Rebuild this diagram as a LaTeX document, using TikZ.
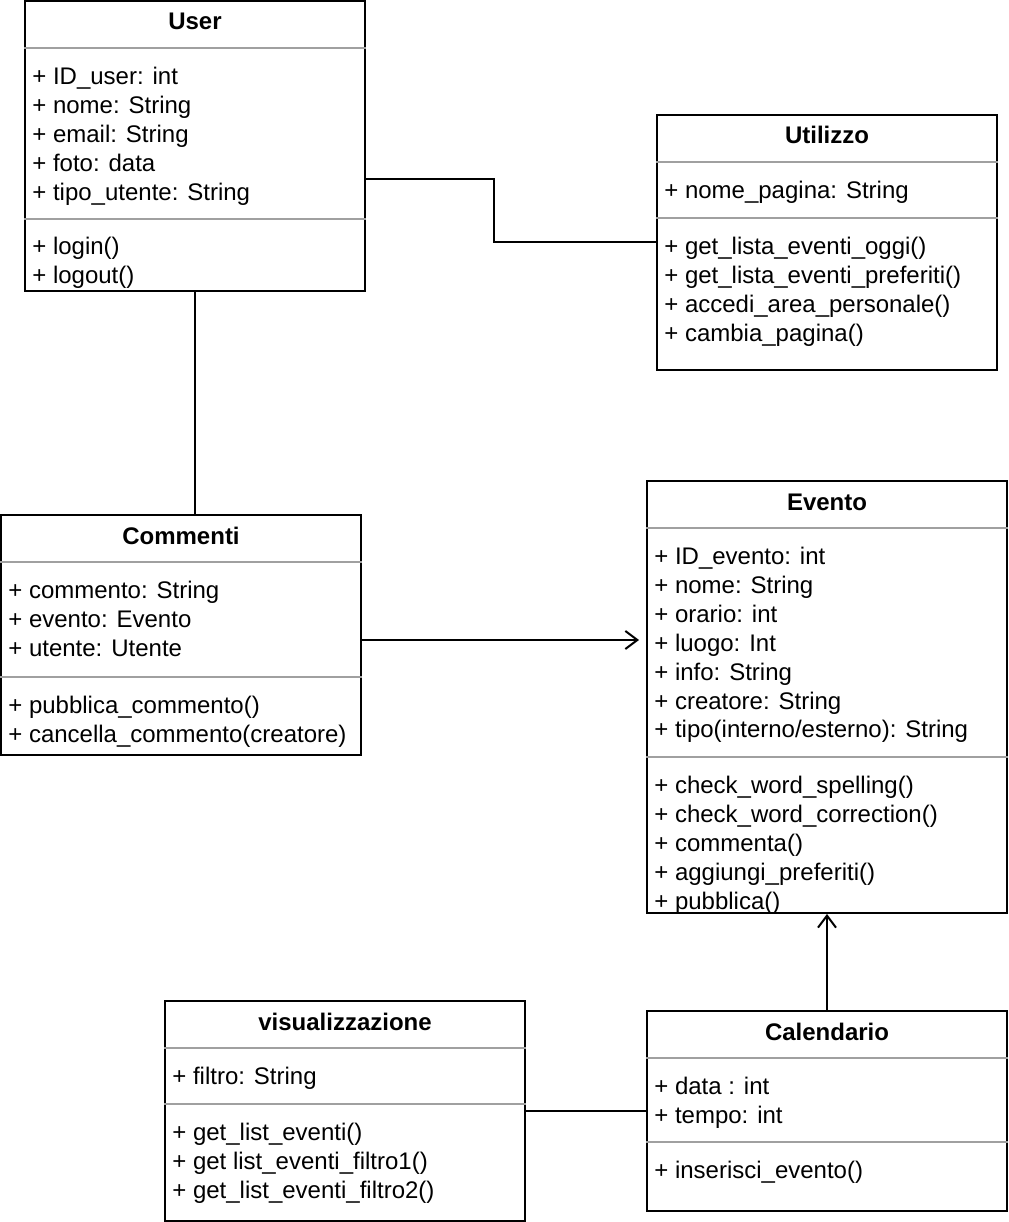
\documentclass[tikz,border=0pt]{standalone}
\usepackage{fontspec}
\setmainfont{Liberation Sans}
\usetikzlibrary{positioning,arrows.meta}
\definecolor{umlgray}{RGB}{160,160,160}

\begin{document}
\begin{tikzpicture}[
    x=0.02cm, y=-0.02cm,
    classbox/.style={
        rectangle, draw=black, line width=0.04cm,
        inner sep=0, fill=white
    },
    classtitle/.style={
        font=\fontsize{13.66pt}{16.45pt}\selectfont\bfseries,
        inner sep=0, anchor=base
    },
    members/.style={
        font=\fontsize{13.66pt}{16.45pt}\selectfont,
        align=left, inner sep=0, anchor=base west
    },
    sepline/.style={draw=umlgray, line width=0.04cm},
    link/.style={draw=black, line width=0.04cm},
    arrow/.style={link, -{Straight Barb[length=0.24cm, width=0.36cm]}}
]
    \useasboundingbox (0,0) rectangle (1008,1222);

    % User (member nodes sit on the baseline of their last line)
    \node[classbox, minimum width=6.8cm, minimum height=5.8cm] (user) at (195,146) {};
    \node[classtitle] (usertitle) at (195,30) {User};
    \draw[sepline] (user.west |- 0,48) -- (user.east |- 0,48);
    \draw[sepline] (user.west |- 0,219) -- (user.east |- 0,219);
    \node[members] (userattr) at (32,200.6) {+ ID\_user: int\\+ nome: String\\+ email: String\\+ foto: data\\+ tipo\_utente: String};
    \node[members] (usermeth) at (32,283.9) {+ login()\\+ logout()};

    % Utilizzo
    \node[classbox, minimum width=6.8cm, minimum height=5.1cm] (utilizzo) at (827,242.5) {};
    \node[classtitle] (utilizzotitle) at (827,144) {Utilizzo};
    \draw[sepline] (utilizzo.west |- 0,162) -- (utilizzo.east |- 0,162);
    \draw[sepline] (utilizzo.west |- 0,218) -- (utilizzo.east |- 0,218);
    \node[members] (utilizzoattr) at (664,199) {+ nome\_pagina: String};
    \node[members] (utilizzometh) at (664,341.7) {+ get\_lista\_eventi\_oggi()\\+ get\_lista\_eventi\_preferiti()\\+ accedi\_area\_personale()\\+ cambia\_pagina()};

    % Commenti
    \node[classbox, minimum width=7.2cm, minimum height=4.8cm] (commenti) at (181,635) {};
    \node[classtitle] (commentititle) at (181,544) {Commenti};
    \draw[sepline] (commenti.west |- 0,562) -- (commenti.east |- 0,562);
    \draw[sepline] (commenti.west |- 0,677) -- (commenti.east |- 0,677);
    \node[members] (commentiattr) at (8,656.3) {+ commento: String\\+ evento: Evento\\+ utente: Utente};
    \node[members] (commentimeth) at (8,742.4) {+ pubblica\_commento()\\+ cancella\_commento(creatore)};

    % Evento
    \node[classbox, minimum width=7.2cm, minimum height=8.64cm] (evento) at (827,697) {};
    \node[classtitle] (eventotitle) at (827,510) {Evento};
    \draw[sepline] (evento.west |- 0,528) -- (evento.east |- 0,528);
    \draw[sepline] (evento.west |- 0,757) -- (evento.east |- 0,757);
    \node[members] (eventoattr) at (654,737.9) {+ ID\_evento: int\\+ nome: String\\+ orario: int\\+ luogo: Int\\+ info: String\\+ creatore: String\\+ tipo(interno/esterno): String};
    \node[members] (eventometh) at (654,909.1) {+ check\_word\_spelling()\\+ check\_word\_correction()\\+ commenta()\\+ aggiungi\_preferiti()\\+ pubblica()};

    % visualizzazione
    \node[classbox, minimum width=7.2cm, minimum height=4.4cm] (visual) at (345,1111) {};
    \node[classtitle] (visualtitle) at (345,1030) {visualizzazione};
    \draw[sepline] (visual.west |- 0,1048) -- (visual.east |- 0,1048);
    \draw[sepline] (visual.west |- 0,1104) -- (visual.east |- 0,1104);
    \node[members] (visualattr) at (172,1084.5) {+ filtro: String};
    \node[members] (visualmeth) at (172,1198.3) {+ get\_list\_eventi()\\+ get list\_eventi\_filtro1()\\+ get\_list\_eventi\_filtro2()};

    % Calendario
    \node[classbox, minimum width=7.2cm, minimum height=4cm] (calendario) at (827,1111) {};
    \node[classtitle] (calendariotitle) at (827,1040) {Calendario};
    \draw[sepline] (calendario.west |- 0,1058) -- (calendario.east |- 0,1058);
    \draw[sepline] (calendario.west |- 0,1142) -- (calendario.east |- 0,1142);
    \node[members] (calendarioattr) at (654,1123.4) {+ data : int\\+ tempo: int};
    \node[members] (calendariometh) at (654,1178.5) {+ inserisci\_evento()};

    % connectors
    \coordinate (eventoin) at (639,640);
    \draw[link] ([yshift=-0.66cm]user.east) -- ++(128,0) |- (utilizzo.west);
    \draw[link] (user.south) -- (user.south |- commenti.north);
    \draw[arrow] (commenti.east |- eventoin) -- (eventoin);
    \draw[arrow] (calendario.north) -- (evento.south);
    \draw[link] (visual.east) -- (calendario.west);
\end{tikzpicture}
\end{document}
